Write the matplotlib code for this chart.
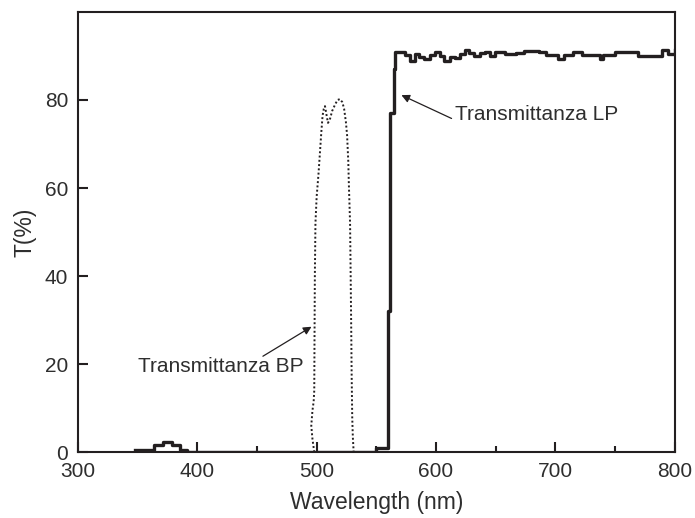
import numpy as np
import matplotlib.pyplot as plt

# ── data ─────────────────────────────────────────────────────────────────────
# long-pass filter: step curve, edges in nm and value held until next edge
LP_EDGES = [348, 364, 371, 378.5, 385.5, 391.5, 549.5, 559.5, 561.5, 564.5, 566,
            570, 574, 578, 582, 586, 590, 595, 599, 603, 607, 612, 616, 620,
            624, 628, 632, 637, 641, 645, 649, 658, 667, 674, 686, 692, 702,
            707, 715, 722, 737, 740, 750, 769, 789, 794, 800]
LP_VALUES = [0.6, 1.6, 2.3, 1.6, 0.5, 0.0, 0.9, 32.0, 77.0, 87.0, 91.0,
             90.8, 90.3, 88.8, 90.5, 89.8, 89.3, 90.3, 90.9, 90.0, 88.8, 89.8,
             89.6, 90.5, 91.3, 90.7, 90.0, 90.6, 90.8, 90.1, 90.8, 90.4, 90.6,
             91.2, 91.0, 90.3, 89.3, 90.3, 91.0, 90.3, 89.3, 90.3, 90.8, 90.0,
             91.4, 90.5, 91.4]

# band-pass filter: traced outline (wavelength, T)
BP_WL = [498.0, 496.5, 495.5, 496.5, 497.5, 498.0, 498.2, 498.5, 499.0, 500.0,
         501.5, 503.0, 504.0, 505.0, 506.0, 507.0, 508.0, 509.5, 511.0, 513.0,
         515.5, 517.5, 519.5, 521.5, 523.0, 524.5, 525.5, 526.5, 527.0, 528.0,
         528.5, 529.0, 529.3, 529.8, 530.3, 531.0]
BP_T = [0.0, 3.0, 6.0, 9.5, 11.5, 14.0, 25.0, 40.0, 52.0, 58.0,
        63.0, 69.0, 73.0, 76.5, 78.0, 78.6, 77.0, 74.8, 75.5, 77.5,
        79.0, 80.0, 80.2, 79.5, 78.0, 75.0, 72.0, 66.0, 60.7, 52.0,
        40.0, 27.0, 18.0, 8.0, 3.5, 0.0]

X_TICKS = [300, 400, 500, 600, 700, 800]
Y_TICKS = [0, 20, 40, 60, 80]

INK = "#231f20"
TXT = "#2e2e2e"

plt.rcParams.update({
    "font.family": ["Liberation Sans", "DejaVu Sans"],
    "font.size": 15,
    "text.color": TXT,
    "axes.edgecolor": INK,
    "axes.labelcolor": TXT,
    "xtick.color": INK,
    "ytick.color": INK,
    "xtick.labelcolor": TXT,
    "ytick.labelcolor": TXT,
    "axes.linewidth": 1.5,
})

fig = plt.figure(figsize=(6.95, 5.18), dpi=100)
ax = fig.add_axes([0.112, 0.127, 0.859, 0.850])

# LP step curve
lp_x = np.array(LP_EDGES, dtype=float)
lp_y = np.append(LP_VALUES[:len(LP_EDGES) - 1], LP_VALUES[-1])
ax.step(lp_x, lp_y, where="post", color=INK, linewidth=2.4, zorder=2)

# BP dotted outline
ax.plot(BP_WL, BP_T, color=INK, linewidth=1.4, linestyle=(0, (1, 1.2)), zorder=2)

# annotations
arrow = dict(arrowstyle="-|>", color=INK, linewidth=0.9,
             mutation_scale=12, shrinkA=0, shrinkB=0)
ax.annotate("", xy=(571, 81.1), xytext=(613, 75.8), arrowprops=arrow)
ax.text(615.5, 76.8, "Transmittanza LP", ha="left", va="center")
ax.annotate("", xy=(495.7, 28.5), xytext=(455, 21.8), arrowprops=arrow)
ax.text(489, 19.5, "Transmittanza BP", ha="right", va="center")

# axes
ax.set_xlim(300, 800)
ax.set_ylim(0, 100)
ax.set_xticks(X_TICKS)
ax.set_xticks([450, 550, 650, 750], minor=True)
ax.set_yticks(Y_TICKS)
ax.tick_params(axis="both", which="major", direction="in", length=7,
               width=1.5, pad=7)
ax.tick_params(axis="x", which="minor", direction="in", length=4.5, width=1.5)
ax.set_xlabel("Wavelength (nm)", fontsize=16.5, labelpad=7)
ax.set_ylabel("T(%)", fontsize=16.5, labelpad=6)

fig.savefig("out.png", dpi=100)
